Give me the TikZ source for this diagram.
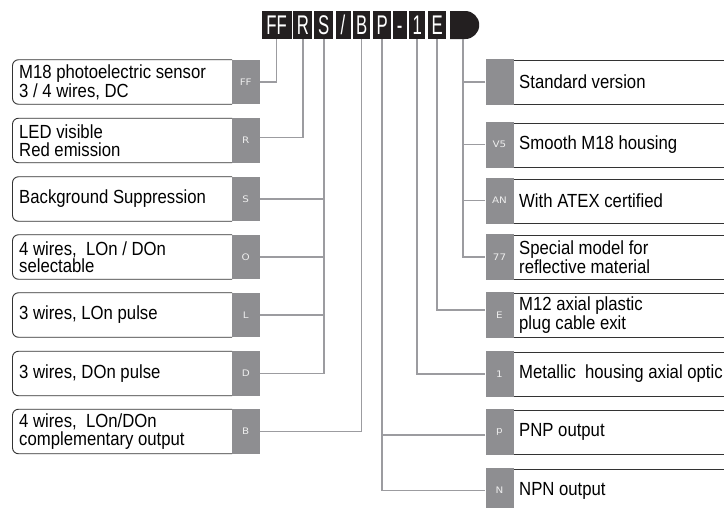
\documentclass[tikz,border=0pt]{standalone}
\usepackage{fontspec}
\setmainfont{Liberation Sans}
\newfontfamily\condf[FakeStretch=0.88]{Liberation Sans}
\newfontfamily\hdrf[FakeStretch=0.62]{Liberation Sans}
\newfontfamily\tabf[FakeStretch=1.15]{DejaVu Sans}
\usetikzlibrary{shapes.misc}
\definecolor{hdr}{HTML}{231F20}
\definecolor{tabgray}{HTML}{8E8E91}
\definecolor{linegray}{HTML}{9C9CA0}
\definecolor{boxline}{HTML}{333333}
\definecolor{tabtext}{HTML}{EDEDED}
\tikzset{
  hbox/.style={fill=hdr, text=white, inner sep=0pt, minimum height=28pt,
    text height=19.3pt, text depth=0pt,
    font=\hdrf\fontsize{27}{27}\selectfont},
  tabbox/.style={fill=tabgray, text=tabtext, inner sep=0pt, minimum width=27.5pt,
    minimum height=44.5pt, font=\tabf\fontsize{9}{10}\selectfont},
  rtab/.style={tabbox, minimum width=28pt, minimum height=46pt},
  desc/.style={inner sep=0pt, align=left, anchor=west,
    font=\condf\fontsize{19}{17.5}\selectfont, text=black},
  conn/.style={draw=linegray, line width=1.6pt},
  lframe/.style={draw=boxline, line width=0.9pt, rounded corners=6pt},
  rframe/.style={draw=boxline, line width=0.9pt},
}
\begin{document}
\begin{tikzpicture}[x=1pt,y=-1pt]
\useasboundingbox (0,0) rectangle (724,507);
\clip (0,0) rectangle (724,507);
\fill[white] (0,0) rectangle (724,507);

% header
\node[hbox, minimum width=30pt]   (hFF) at (276.5,25) {FF};
\node[hbox, minimum width=19pt]   (hR)  at (302.8,25) {R};
\node[hbox, minimum width=19.3pt] (hS)  at (323.7,25) {S};
\node[hbox, minimum width=15pt]   (hSl) at (343,25) {/};
\node[hbox, minimum width=17.3pt] (hB)  at (361.6,25) {B};
\node[hbox, minimum width=17.5pt] (hP)  at (382.2,25) {P};
\node[hbox, minimum width=14pt]   (hM)  at (399.7,25) {-};
\node[hbox, minimum width=15.7pt] (h1)  at (417.2,25) {1};
\node[hbox, minimum width=18.4pt] (hE)  at (437.2,25) {E};
\node[hbox, rounded rectangle, rounded rectangle left arc=none,
      minimum width=29pt] (hEnd) at (462.8,25) {};

% left boxes
\foreach \c in {82,140.5,199,257,315,373.5,431.5}{
  \draw[lframe] (232,\c-22.25) -- (12.5,\c-22.25) -- (12.5,\c+22.25) -- (232,\c+22.25);
}
\node[tabbox] (tFF) at (245.75,82) {FF};
\node[tabbox] (tR)  at (245.75,140.5) {R};
\node[tabbox] (tS)  at (245.75,199) {S};
\node[tabbox] (tO)  at (245.75,257) {O};
\node[tabbox] (tL)  at (245.75,315) {L};
\node[tabbox] (tD)  at (245.75,373.5) {D};
\node[tabbox] (tB)  at (245.75,431.5) {B};

\node[desc] (dFF) at (19,82) {M18 photoelectric sensor\\3 / 4 wires, DC};
\node[desc] (dR)  at (19,140.5) {LED visible\\Red emission};
\node[desc] (dS)  at (19,199) {Background Suppression};
\node[desc] (dO)  at (19,257) {4 wires,~ LOn / DOn\\selectable};
\node[desc] (dL)  at (19,315) {3 wires, LOn pulse};
\node[desc] (dD)  at (19,373.5) {3 wires, DOn pulse};
\node[desc] (dB)  at (19,431.5) {4 wires,~ LOn/DOn\\complementary output};

% right boxes
\foreach \c in {82,144.5,200.5,257,315,374,432,490.5}{
  \draw[rframe] (513.5,\c-21.5) -- (730,\c-21.5);
  \draw[rframe] (513.5,\c+22.5) -- (730,\c+22.5);
}
\node[rtab] (tStd) at (499.5,82) {};
\node[rtab] (tV)   at (499.5,144.5) {V5};
\node[rtab] (tAN)  at (499.5,200.5) {AN};
\node[rtab] (t77)  at (499.5,257) {77};
\node[rtab] (tE)   at (499.5,315) {E};
\node[rtab] (t1)   at (499.5,374) {1};
\node[rtab] (tP)   at (499.5,432) {p};
\node[rtab] (tN)   at (499.5,490.5) {N};

\node[desc] (dStd) at (519,82) {Standard version};
\node[desc] (dV)   at (519,144.5) {Smooth M18 housing};
\node[desc] (dAN)  at (519,200.5) {With ATEX certified};
\node[desc] (d77)  at (519,257) {Special model for\\reflective material};
\node[desc] (dE)   at (519,315) {M12 axial plastic\\plug cable exit};
\node[desc] (d1)   at (519,374) {Metallic~ housing axial optic};
\node[desc] (dP)   at (519,432) {PNP output};
\node[desc] (dN)   at (519,490.5) {NPN output};

% connectors left
\draw[conn] (tFF.east) -| (hFF.south);
\draw[conn] ([yshift=3pt]tR.east) -| (hR.south);
\draw[conn] (hS.south) |- (tD.east);
\draw[conn] (tS.east) -- (tS.east -| hS.south);
\draw[conn] (tO.east) -- (tO.east -| hS.south);
\draw[conn] (tL.east) -- (tL.east -| hS.south);
\draw[conn] (tB.east) -| (hB.south);
% connectors right
\draw[conn] (hP.south) |- (tN.west);
\draw[conn] ([yshift=-3pt]tP.west) -- ([yshift=-3pt]tP.west -| hP.south);
\draw[conn] (h1.south) |- (t1.west);
\draw[conn] (hE.south) |- ([yshift=5pt]tE.west);
\draw[conn] (hEnd.south) |- (t77.west);
\draw[conn] (tStd.west) -- (tStd.west -| hEnd.south);
\draw[conn] (tV.west) -- (tV.west -| hEnd.south);
\draw[conn] (tAN.west) -- (tAN.west -| hEnd.south);
\end{tikzpicture}
\end{document}
